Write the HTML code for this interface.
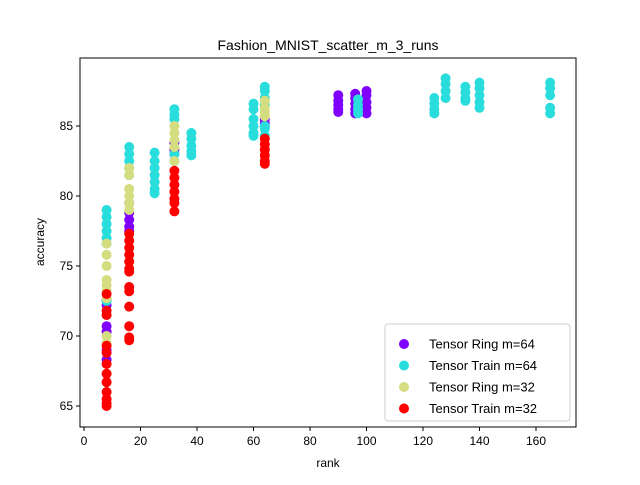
<!DOCTYPE html>
<html><head><meta charset="utf-8"><style>
body{margin:0;background:#fff;}
svg{font-family:"Liberation Sans","DejaVu Sans",sans-serif;}
</style></head><body>
<svg id="chart" width="640" height="480">
<rect width="640" height="480" fill="#fff"/>
<text x="328" y="50" font-size="14" text-anchor="middle">Fashion_MNIST_scatter_m_3_runs</text>
<g id="marks"></g>
<rect x="80" y="58" width="496" height="369" fill="none" stroke="#000" stroke-width="1"/>
<g id="xticks"></g><g id="yticks"></g>
<text x="328" y="467" font-size="12" text-anchor="middle">rank</text>
<text x="44" y="242" font-size="12" text-anchor="middle" transform="rotate(-90 44 242)">accuracy</text>
<g id="legend">
<rect x="385" y="324" width="185" height="97" rx="3" fill="#fff" fill-opacity="0.8" stroke="#ccc"/>
</g>
</svg>
<script>
const xTicks=[0,20,40,60,80,100,120,140,160];
const yTicks=[65,70,75,80,85];
const seriesNames=["Tensor Ring m=64","Tensor Train m=64","Tensor Ring m=32","Tensor Train m=32"];
const seriesColors=["#8000ff","#2adddd","#d4dd80","#ff0000"];
const ringM64=[[8,[72.2,72.6,70.7,70.3,69.0,68.3]],[16,[79.5,78.8,78.3,77.8,77.5]],[32,[83.8,83.3,83.0]],[64,[85.5,85.2,85.0]],[90,[87.2,86.8,86.5,86.2,86.0]],[96,[87.3,87.0,86.6,86.2,85.9]],[100,[87.5,87.2,86.7,86.3,85.9]]];
const trainM64=[[8,[79.0,78.5,78.0,77.5,77.0,76.6,71.5,72.5]],[16,[83.5,83.0,82.5,82.0,81.5]],[25,[83.1,82.5,82.0,81.5,81.0,80.5,80.2]],[32,[86.2,85.8,85.5,83.0,82.5]],[38,[84.5,84.1,83.6,83.2,82.9]],[60,[86.6,86.2,85.5,85.0,84.5,84.3]],[64,[87.8,87.5,87.0,86.5,85.0,84.8,84.3]],[97,[86.9,86.5,86.2,85.9]],[124,[87.0,86.6,86.2,85.9]],[128,[88.4,88.0,87.5,87.0]],[135,[87.8,87.4,87.0,86.8]],[140,[88.1,87.7,87.2,86.7,86.3]],[165,[88.1,87.7,87.2,86.3,85.9]]];
const ringM32=[[8,[76.6,75.8,75.0,74.0,73.6,73.2,72.7,70.0,69.5]],[16,[82.0,81.5,80.5,80.0,79.5,79.0]],[32,[85.0,84.5,84.0,83.5,82.5]],[64,[86.8,86.3,86.0,85.7]]];
const trainM32=[[8,[73.0,71.8,71.5,69.3,68.8,68.0,67.3,66.7,66.0,65.5,65.2,65.0]],[16,[77.3,76.8,76.3,75.8,75.3,74.8,74.6,73.5,73.2,72.1,70.7,69.9,69.7]],[32,[81.8,81.3,80.8,80.3,79.8,79.5,78.9]],[64,[84.1,83.7,83.3,82.9,82.5,82.3]]];
const allSeries=[ringM64,trainM64,ringM32,trainM32];
const NS="http://www.w3.org/2000/svg";
function xs(v){return 84+v*(536-84)/160;}
function ys(v){return 406-(v-65)*14;}
function mk(tag,attrs,parent){const e=document.createElementNS(NS,tag);for(const k in attrs)e.setAttribute(k,attrs[k]);parent.appendChild(e);return e;}
const marks=document.getElementById('marks');
allSeries.forEach((s,si)=>{s.forEach(([x,vals])=>{vals.forEach(v=>{
 const c=mk('circle',{cx:xs(x),cy:ys(v),r:5,fill:seriesColors[si]},marks);
 
 
});});});
const xt=document.getElementById('xticks');
xTicks.forEach(t=>{
 mk('line',{x1:xs(t),x2:xs(t),y1:427,y2:431,stroke:'#000'},xt);
 const e=mk('text',{x:xs(t),y:445,'font-size':12,'text-anchor':'middle'},xt);e.textContent=t;
 
 
});
const yt=document.getElementById('yticks');
yTicks.forEach(t=>{
 mk('line',{x1:76,x2:80,y1:ys(t),y2:ys(t),stroke:'#000'},yt);
 const e=mk('text',{x:73,y:ys(t)+4,'font-size':12,'text-anchor':'end'},yt);e.textContent=t;
 
 
});
const lg=document.getElementById('legend');
seriesNames.forEach((n,i)=>{
 const y=344+i*21.5;
 const c=mk('circle',{cx:404,cy:y,r:5,fill:seriesColors[i]},lg);
 
 
 const t=mk('text',{x:429,y:y+4.5,'font-size':13},lg);t.textContent=n;
 
 
});
</script>
</body></html>
